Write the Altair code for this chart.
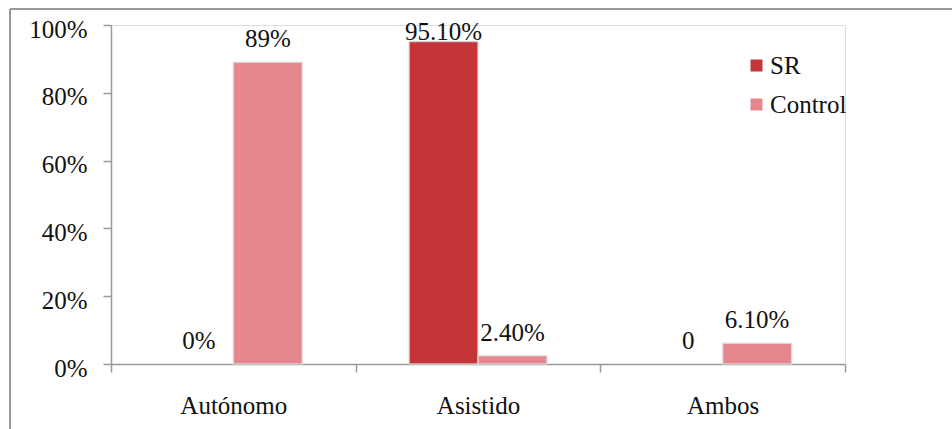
import altair as alt
import pandas as pd

categories = ["Autónomo", "Asistido", "Ambos"]
series = ["SR", "Control"]
sr_values = [0.0, 0.951, 0.0]
control_values = [0.89, 0.024, 0.061]
sr_labels = ["0%", "95.10%", "0"]
control_labels = ["89%", "2.40%", "6.10%"]
colors = ["#C33538", "#E5878D"]

rows = []
for i, c in enumerate(categories):
    rows.append({"cat": c, "series": "SR", "value": sr_values[i], "label": sr_labels[i]})
    rows.append({"cat": c, "series": "Control", "value": control_values[i], "label": control_labels[i]})
df = pd.DataFrame(rows)

FONT = "Liberation Serif"
FS = 25

x = alt.X("cat:N", sort=categories, title=None,
          scale=alt.Scale(paddingInner=0, paddingOuter=0),
          axis=alt.Axis(labelAngle=0, tickBand="extent", domainColor="#999999",
                        domainWidth=1.5, tickColor="#999999", tickWidth=1.5, tickSize=8,
                        labelPadding=21, labelFontSize=FS, labelFont=FONT, labelColor="#111111"))
xo = alt.XOffset("series:N", sort=series,
                 scale=alt.Scale(paddingInner=0, paddingOuter=0.775))

base = alt.Chart(df)

bars = base.transform_filter("datum.value > 0").mark_bar(
    stroke="#dddddd", strokeWidth=1.5, strokeOpacity=0.8).encode(
    x=x,
    xOffset=xo,
    y=alt.Y("value:Q", title=None,
            scale=alt.Scale(domain=[0, 1], nice=False),
            axis=alt.Axis(format=".0%", values=[0, 0.2, 0.4, 0.6, 0.8, 1.0], grid=False,
                          domainColor="#999999", domainWidth=1.5, tickColor="#999999",
                          tickWidth=1.5, tickSize=8, labelPadding=16, labelOffset=4,
                          labelFontSize=FS, labelFont=FONT, labelColor="#111111")),
    color=alt.Color("series:N", sort=series,
                    scale=alt.Scale(domain=series, range=colors),
                    legend=alt.Legend(title=None, orient="none", legendX=633, legendY=28,
                                      symbolType="square", symbolSize=144,
                                      symbolStrokeWidth=0, labelFontSize=FS,
                                      labelFont=FONT, labelColor="#111111",
                                      labelOffset=1, rowPadding=13)),
)

text = base.transform_calculate(
    ly="min(datum.value, 0.912)"
).mark_text(dy=-15, baseline="alphabetic", fontSize=FS, font=FONT, color="#111111").encode(
    x=x,
    xOffset=xo,
    y=alt.Y("ly:Q"),
    text="label:N",
)

frame_data = alt.Data(values=[{"a": 1}])
left_border = alt.Chart(frame_data).mark_rule(color="#999999", strokeWidth=2).encode(
    x=alt.value(-101), y=alt.value(-16), y2=alt.value(420))
top_border = alt.Chart(frame_data).mark_rule(color="#999999", strokeWidth=2).encode(
    x=alt.value(-101), x2=alt.value(900), y=alt.value(-16))

chart = alt.layer(bars, text, left_border, top_border).properties(
    width=734, height=339,
    autosize=alt.AutoSizeParams(type="none"),
    padding={"left": 111, "top": 25, "right": 107, "bottom": 65},
).configure_view(stroke=None).configure(background="white")

chart.save("out.html", embed_options={"renderer": "svg", "actions": False})
